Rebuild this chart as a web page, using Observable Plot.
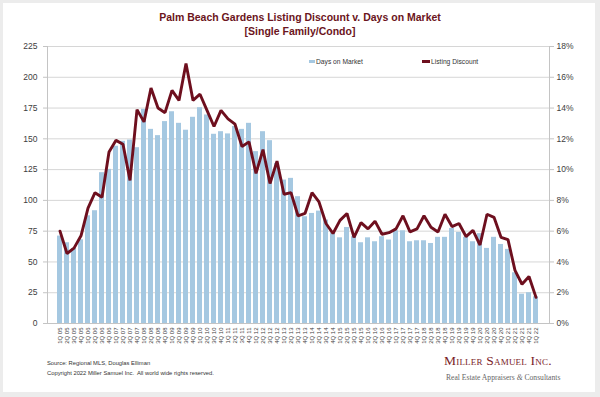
<!DOCTYPE html>
<html><head><meta charset="utf-8">
<script src="https://cdn.jsdelivr.net/npm/d3@7"></script>
<script src="https://cdn.jsdelivr.net/npm/@observablehq/plot@0.6"></script>
<style>
html,body{margin:0;padding:0;background:#ececec;}
#wrap{position:relative;width:600px;height:397px;overflow:hidden;font-family:"Liberation Sans",Arial,sans-serif;background:#ececec;}
#card{position:absolute;left:3px;top:3px;width:592px;height:389px;background:#fff;}
#chart{position:absolute;left:0;top:0;}
.title{position:absolute;left:0;width:600px;text-align:center;font-weight:bold;font-size:10.5px;color:#6b1420;white-space:nowrap;}
.leg{position:absolute;font-size:6.7px;color:#333;white-space:nowrap;line-height:8px;}
.sw{display:inline-block;width:6px;height:3px;vertical-align:middle;margin-right:1px;position:relative;top:-1px;}
.foot{position:absolute;left:47px;font-size:5.8px;color:#333;white-space:nowrap;}
.logo{position:absolute;font-family:"Liberation Serif","DejaVu Serif",serif;white-space:nowrap;}
</style></head>
<body>
<div id="wrap">
<div id="card"></div>
<div id="chart"></div>
<div class="title" style="top:11px">Palm Beach Gardens Listing Discount v. Days on Market</div>
<div class="title" style="top:25px">[Single Family/Condo]</div>
<div class="leg" style="left:309px;top:58px"><span class="sw" style="background:#a5c8e1"></span>Days on Market</div>
<div class="leg" style="left:422px;top:58px"><span class="sw" style="background:#6e0f1e;width:8px"></span>Listing Discount</div>
<div class="foot" style="top:360px">Source: Regional MLS, Douglas Elliman</div>
<div class="foot" style="top:370px">Copyright 2022 Miller Samuel Inc.&nbsp; All world wide rights reserved.</div>
<div class="logo" style="left:444px;top:353px;font-size:13.5px;color:#7a1c28;font-variant:small-caps;letter-spacing:0.2px">Miller Samuel Inc.</div>
<div class="logo" style="left:446px;top:373px;font-size:7.6px;color:#666">Real Estate Appraisers <i>&amp;</i> Consultants</div>
</div>
<script>
const quarters = ["1Q 05","2Q 05","3Q 05","4Q 05","1Q 06","2Q 06","3Q 06","4Q 06","1Q 07","2Q 07","3Q 07","4Q 07",
"1Q 08","2Q 08","3Q 08","4Q 08","1Q 09","2Q 09","3Q 09","4Q 09","1Q 10","2Q 10","3Q 10","4Q 10",
"1Q 11","2Q 11","3Q 11","4Q 11","1Q 12","2Q 12","3Q 12","4Q 12","1Q 13","2Q 13","3Q 13","4Q 13",
"1Q 14","2Q 14","3Q 14","4Q 14","1Q 15","2Q 15","3Q 15","4Q 15","1Q 16","2Q 16","3Q 16","4Q 16",
"1Q 17","2Q 17","3Q 17","4Q 17","1Q 18","2Q 18","3Q 18","4Q 18","1Q 19","2Q 19","3Q 19","4Q 19",
"1Q 20","2Q 20","3Q 20","4Q 20","1Q 21","2Q 21","3Q 21","4Q 21","1Q 22"];
const daysOnMarket = [71,65.6,61,68,87.5,91.6,122.5,125.2,144,148,149,142.8,174,157.7,152.6,164,172,162.6,157,167.5,
175.3,169.4,153.7,155.8,154,160,157.7,162.6,139.6,155.8,148.5,130,116.5,117.9,103,86.7,89.4,91.3,84,73.7,
69.6,78,70.5,65.6,69.6,66.4,70.5,67.8,75.3,75.3,66.4,67.2,67.2,65,70,70,77.2,74,70,66.4,
73,61,70,64.2,60.2,41.2,23.8,25,21.7];
const listingDiscount = [6.0,4.55,4.9,5.7,7.5,8.5,8.2,11.15,11.9,11.65,9.3,13.9,13.1,15.3,14.0,13.7,15.15,14.5,16.9,14.5,
14.9,13.85,12.8,13.85,13.3,12.95,11.5,11.8,9.75,11.3,9.1,10.55,8.4,8.5,7.0,7.15,8.5,7.9,6.5,5.85,
6.7,7.15,5.6,6.55,6.15,6.65,5.8,5.9,6.15,7.0,5.95,6.15,7.0,6.25,5.95,7.1,6.3,6.5,5.65,6.05,
5.1,7.1,6.9,5.6,5.45,3.45,2.55,3.05,1.7];
const leftTicks = [0,25,50,75,100,125,150,175,200,225];
const rightTicks = [0,2,4,6,8,10,12,14,16,18];

const k = 225 / 18;
const rows = quarters.map((q, i) => ({q, days: daysOnMarket[i], disc: listingDiscount[i] * k}));

const chart = Plot.plot({
  width: 600, height: 397,
  marginTop: 46, marginBottom: 74, marginLeft: 47, marginRight: 51,
  style: {background: "transparent", fontFamily: "Liberation Sans, Arial, sans-serif", fontSize: "8.5px", color: "#404040"},
  x: {type: "band", domain: quarters, paddingInner: 0.27, paddingOuter: 0.135},
  y: {domain: [0, 225]},
  marks: [
    Plot.gridY(leftTicks, {stroke: "#d6d6d6", strokeOpacity: 1}),
    Plot.barY(rows, {x: "q", y: "days", fill: "#a5c8e1"}),
    Plot.line(rows, {x: "q", y: "disc", stroke: "#6e0f1e", strokeWidth: 2.9, strokeLinejoin: "miter"}),
    Plot.ruleY([0], {stroke: "#c4c4c4"}),
    Plot.frame({stroke: "#c4c4c4", anchor: "left"}),
    Plot.frame({stroke: "#c4c4c4", anchor: "right"}),
    Plot.axisY(leftTicks, {anchor: "left", tickSize: 4, tickPadding: 6, stroke: "#c4c4c4", fill: "#404040", label: null}),
    Plot.axisY(rightTicks.map(d => d * k), {anchor: "right", tickSize: 4, tickPadding: 3, stroke: "#c4c4c4", fill: "#404040",
      tickFormat: d => Math.round(d / k) + "%", label: null}),
    Plot.axisX({tickRotate: -90, tickSize: 0, tickPadding: 4, fontSize: 6, fill: "#404040", label: null})
  ]
});
document.getElementById("chart").appendChild(chart);
</script>
</body></html>
